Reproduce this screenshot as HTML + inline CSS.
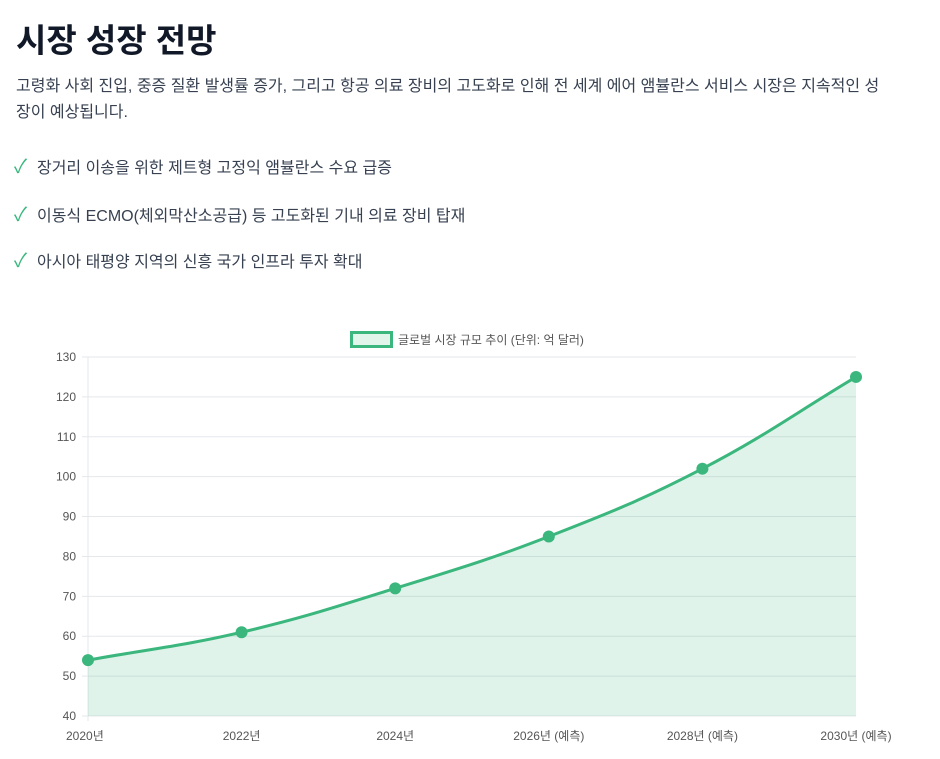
<!DOCTYPE html>
<html><head><meta charset="utf-8"><style>
body{margin:0;background:#fff;width:940px;height:759px;overflow:hidden;font-family:"Liberation Sans","Noto Sans CJK KR",sans-serif;color:#1f2937}
h1{position:absolute;left:16px;top:14px;margin:0;font-size:33px;font-weight:700;color:#111827;letter-spacing:0px}
p{position:absolute;left:16px;top:74px;margin:0;width:930px;font-size:16px;line-height:26px;color:#374151;white-space:nowrap}
.li{position:absolute;left:14px;font-size:16px;color:#374151}
.li span.c{color:#3bb77e;font-size:19px;margin-right:10px}
svg{position:absolute;left:0;top:0}
</style></head><body>
<h1>시장 성장 전망</h1>
<p>고령화 사회 진입, 중증 질환 발생률 증가, 그리고 항공 의료 장비의 고도화로 인해 전 세계 에어 앰뷸란스 서비스 시장은 지속적인 성<br>장이 예상됩니다.</p>
<div class="li" style="top:152px"><span class="c">✓</span>장거리 이송을 위한 제트형 고정익 앰뷸란스 수요 급증</div>
<div class="li" style="top:200px"><span class="c">✓</span>이동식 ECMO(체외막산소공급) 등 고도화된 기내 의료 장비 탑재</div>
<div class="li" style="top:246px"><span class="c">✓</span>아시아 태평양 지역의 신흥 국가 인프라 투자 확대</div>
<svg id="chart" width="940" height="759"></svg>
<script>
const categories=["2020년","2022년","2024년","2026년 (예측)","2028년 (예측)","2030년 (예측)"];
const values=[54,61,72,85,102,125];
const yTicks=[40,50,60,70,80,90,100,110,120,130];
const NS="http://www.w3.org/2000/svg";
const svg=document.getElementById('chart');
const x0=88,x1=856,yTop=357,yBot=716,yMin=40,yMax=130;
const X=i=>x0+(x1-x0)*i/(categories.length-1);
const Y=v=>yBot-(v-yMin)/(yMax-yMin)*(yBot-yTop);
function el(t,a){const e=document.createElementNS(NS,t);for(const k in a)e.setAttribute(k,a[k]);svg.appendChild(e);return e;}
yTicks.forEach(t=>{
 const g=el('line',{x1:82,x2:x1,y1:Y(t),y2:Y(t),stroke:'#e5e7eb','stroke-width':1});
 
 
 const tx=el('text',{x:76,y:Y(t)+4,'text-anchor':'end','font-size':12,fill:'#555'});
 tx.textContent=t;
 
 
});
const ax=el('line',{x1:x0,x2:x0,y1:yTop,y2:yBot+5,stroke:'#e5e7eb'});


categories.forEach((c,i)=>{
 const tx=el('text',{x:X(i),y:740,'text-anchor':i==0?'start':'middle','font-size':12,fill:'#555'});
 if(i==0)tx.setAttribute('x',X(i)-22);
 tx.textContent=c;
 
 
});
const pts=values.map((v,i)=>[X(i),Y(v)]);
const tn=0.4;let d=`M${pts[0][0]},${pts[0][1]}`;
function cps(i){const p=pts[Math.max(i-1,0)],c=pts[i],n=pts[Math.min(i+1,pts.length-1)];
 const d01=Math.hypot(c[0]-p[0],c[1]-p[1]),d12=Math.hypot(n[0]-c[0],n[1]-c[1]);
 const fa=d01+d12?tn*d01/(d01+d12):0,fb=d01+d12?tn*d12/(d01+d12):0;
 return [[c[0]-fa*(n[0]-p[0]),c[1]-fa*(n[1]-p[1])],[c[0]+fb*(n[0]-p[0]),c[1]+fb*(n[1]-p[1])]];}
for(let i=0;i<pts.length-1;i++){const a=cps(i)[1],b=cps(i+1)[0];d+=` C${a[0]},${a[1]} ${b[0]},${b[1]} ${pts[i+1][0]},${pts[i+1][1]}`;}
const area=el('path',{d:d+` L${x1},${yBot} L${x0},${yBot} Z`,fill:'rgba(59,183,126,0.16)'});


const line=el('path',{d:d,fill:'none',stroke:'#3bb77e','stroke-width':3});


pts.forEach(p=>{const c=el('circle',{cx:p[0],cy:p[1],r:6,fill:'#3bb77e'});
 
 });
const lb=el('rect',{x:351.5,y:332.5,width:40,height:14,fill:'#e1f5ea',stroke:'#3bb77e','stroke-width':3});


const lt=el('text',{x:398,y:344,'font-size':12,fill:'#555'});
lt.textContent='글로벌 시장 규모 추이 (단위: 억 달러)';


</script>
</body></html>
